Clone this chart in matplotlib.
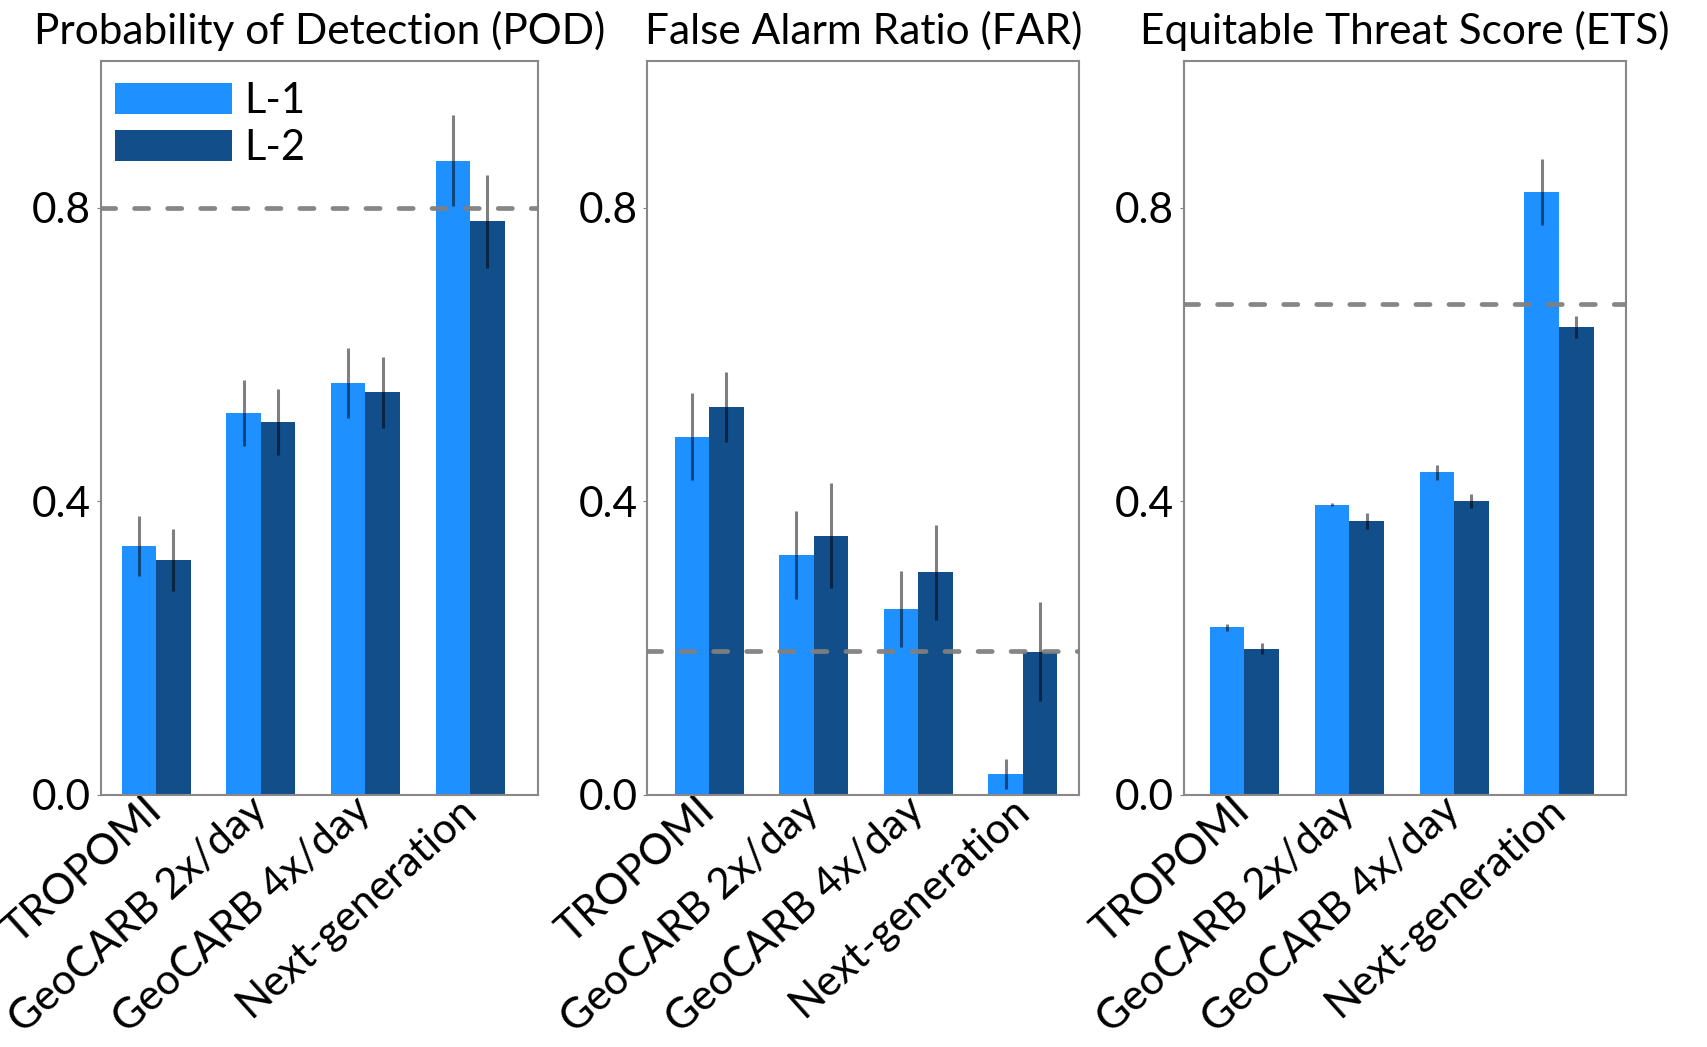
import numpy as np
import matplotlib
matplotlib.use("Agg")
import matplotlib.pyplot as plt

plt.rcParams["font.family"] = ["Lato", "DejaVu Sans"]

# categories / series
SENSORS = ["TROPOMI", "GeoCARB 2x/day", "GeoCARB 4x/day", "Next-generation"]
TITLES = ["Probability of Detection (POD)", "False Alarm Ratio (FAR)",
          "Equitable Threat Score (ETS)"]

pod_l1 = [0.339, 0.520, 0.561, 0.864]
pod_l1_err = [0.041, 0.045, 0.048, 0.062]
pod_l2 = [0.320, 0.508, 0.548, 0.781]
pod_l2_err = [0.042, 0.045, 0.048, 0.063]

far_l1 = [0.488, 0.326, 0.253, 0.028]
far_l1_err = [0.059, 0.060, 0.052, 0.020]
far_l2 = [0.528, 0.353, 0.303, 0.195]
far_l2_err = [0.048, 0.072, 0.065, 0.068]

ets_l1 = [0.228, 0.395, 0.439, 0.821]
ets_l1_err = [0.005, 0.002, 0.010, 0.045]
ets_l2 = [0.199, 0.373, 0.400, 0.637]
ets_l2_err = [0.007, 0.011, 0.009, 0.015]

# reference thresholds (dashed lines)
thresholds = [0.80, 0.196, 0.668]

C_L1 = "#1e90ff"
C_L2 = "#114e8a"

panels = [
    (pod_l1, pod_l1_err, pod_l2, pod_l2_err),
    (far_l1, far_l1_err, far_l2, far_l2_err),
    (ets_l1, ets_l1_err, ets_l2, ets_l2_err),
]
# axes boxes in figure fractions [left, bottom, width, height]
boxes = [[0.059, 0.241, 0.256, 0.701],
         [0.379, 0.241, 0.253, 0.701],
         [0.693, 0.241, 0.259, 0.701]]
xlims = [(-0.53, 3.65), (-0.59, 3.54), (-0.58, 3.64)]

fig = plt.figure(figsize=(17.08, 10.47), dpi=100)
w = 0.33
x = np.arange(len(SENSORS))
for k, (l1, e1, l2, e2) in enumerate(panels):
    ax = fig.add_axes(boxes[k])
    ax.bar(x - w / 2, l1, w, color=C_L1, label="L-1", zorder=2)
    ax.bar(x + w / 2, l2, w, color=C_L2, label="L-2", zorder=2)
    ax.errorbar(x - w / 2, l1, yerr=e1, fmt="none", ecolor="black",
                alpha=0.5, elinewidth=2.2, capsize=0, zorder=4)
    ax.errorbar(x + w / 2, l2, yerr=e2, fmt="none", ecolor="black",
                alpha=0.5, elinewidth=2.2, capsize=0, zorder=4)
    ax.axhline(thresholds[k], color="gray", lw=3.4, ls=(0, (3.0, 4.0)),
               dash_capstyle="round", alpha=0.95, zorder=3)
    ax.set_ylim(0, 1.0)
    ax.set_xlim(*xlims[k])
    ax.set_yticks([0.0, 0.4, 0.8])
    ax.set_yticklabels(["0.0", "0.4", "0.8"])
    ax.set_xticks(x)
    ax.set_xticklabels(SENSORS, rotation=42, ha="right", va="center",
                       rotation_mode="anchor")
    ax.tick_params(axis="both", labelsize=30.5, length=3, color="gray", pad=4)
    ax.tick_params(axis="x", length=0, pad=7)
    for s in ax.spines.values():
        s.set_color("#888888")
        s.set_linewidth(1.5)
    ax.set_title(TITLES[k], fontsize=30.5, pad=12)
    if k == 0:
        ax.legend(loc="upper left", bbox_to_anchor=(0, 0.991), frameon=False,
                  fontsize=30, handlelength=2.8, handleheight=0.78,
                  handletextpad=0.3, labelspacing=0.22, borderaxespad=0.1,
                  borderpad=0.25)

fig.savefig("out.png", dpi=100)
